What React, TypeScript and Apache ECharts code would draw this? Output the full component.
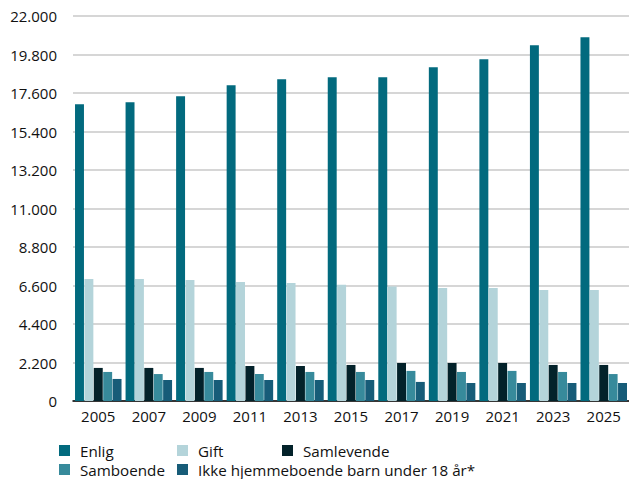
import React, { useEffect, useRef } from "react";
import * as echarts from "echarts";

const years = ["2005", "2007", "2009", "2011", "2013", "2015", "2017", "2019", "2021", "2023", "2025"];
const enlig = [16960, 17070, 17420, 18040, 18390, 18500, 18500, 19070, 19530, 20330, 20790];
const gift = [6970, 6970, 6920, 6800, 6750, 6640, 6540, 6460, 6460, 6350, 6350];
const samlevende = [1890, 1890, 1890, 2000, 2000, 2060, 2170, 2170, 2170, 2060, 2060];
const samboende = [1660, 1540, 1660, 1540, 1660, 1660, 1720, 1660, 1720, 1660, 1540];
const ikke = [1260, 1200, 1200, 1200, 1200, 1200, 1090, 1030, 1030, 1030, 1030];

const seriesNames = ["Enlig", "Gift", "Samlevende", "Samboende", "Ikke hjemmeboende barn under 18 år*"];
const seriesData = [enlig, gift, samlevende, samboende, ikke];
const colors = ["#026A7E", "#B4D4DA", "#03222A", "#378A9B", "#175C78"];

const legendPos: [number, number][] = [
  [59, 443],
  [177, 443],
  [282, 443],
  [59, 462],
  [177, 462],
];

const fmt = (v: number) => {
  const s = Math.round(v).toString();
  return s.replace(/\B(?=(\d{3})+(?!\d))/g, ".");
};

export default function App() {
  const ref = useRef<HTMLDivElement>(null);
  useEffect(() => {
    if (!ref.current) return;
    const chart = echarts.init(ref.current, undefined, { renderer: "svg" });
    const font = "'Open Sans', sans-serif";
    chart.setOption({
      animation: false,
      color: colors,
      textStyle: { fontFamily: font },
      grid: { left: 73, right: 0, top: 16, bottom: 78, containLabel: false },
      legend: seriesNames.map((n, i) => ({
        data: [n],
        left: legendPos[i][0],
        top: legendPos[i][1],
        padding: 0,
        itemWidth: 11,
        itemHeight: 11,
        icon: "rect",
        selectedMode: false,
        textStyle: { fontSize: 15.2, lineHeight: 13, color: "#111", fontFamily: font, padding: [0, 0, 0, 5] },
      })),
      xAxis: {
        type: "category",
        data: years,
        axisLine: { lineStyle: { color: "#000", width: 1.5 } },
        axisTick: { show: false },
        axisLabel: { fontSize: 15, color: "#111", margin: 7, fontFamily: font },
      },
      yAxis: {
        type: "value",
        min: 0,
        max: 22000,
        interval: 2200,
        axisLine: { show: false },
        axisTick: { show: false },
        splitLine: { lineStyle: { color: "#c8c8c8", width: 1.5 } },
        axisLabel: { fontSize: 15, color: "#111", margin: 16, formatter: (v: number) => fmt(v), fontFamily: font },
      },
      series: seriesNames.map((n, i) => ({
        name: n,
        type: "bar",
        data: seriesData[i],
        barCategoryGap: "8%",
        barGap: "5%",
      })),
    });
    return () => chart.dispose();
  }, []);
  return <div ref={ref} style={{ width: 629, height: 479, position: "absolute", left: 0, top: 0 }} />;
}
